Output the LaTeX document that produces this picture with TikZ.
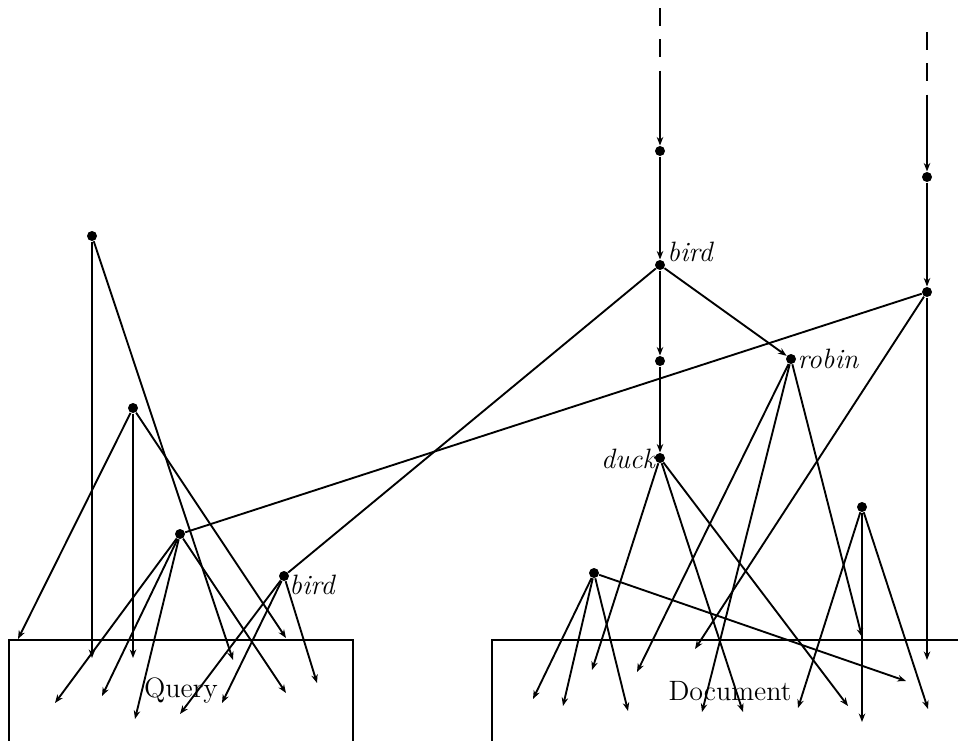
\documentclass[tikz,border=0pt]{standalone}
\usetikzlibrary{arrows.meta}
\begin{document}
\begin{tikzpicture}[x=0.4pt,y=-0.4pt,
  dot/.style={circle,fill=black,inner sep=0pt,minimum size=4pt},
  edge/.style={line width=0.75pt},
  arr/.style={edge,-{Stealth[length=3.4pt,width=2.6pt]}},
  dashline/.style={edge,dash pattern=on 7pt off 5.5pt},
  lbl/.style={inner sep=0pt,font=\fontsize{11.2}{13}\selectfont\itshape},
  boxlbl/.style={inner sep=0pt,font=\fontsize{11.2}{13}\selectfont}]
\useasboundingbox (0,0) rectangle (958,740);
% boxes
\draw[edge] (9,745) -- (9,640) -- (353,640) -- (353,745);
\draw[edge] (492,745) -- (492,640) -- (962,640);
\node[boxlbl] (qlbl) at (181,690) {Query};
\node[boxlbl] (dlbl) at (730,691) {Document};
% dots
\node[dot] (A) at (92,236) {};
\node[dot] (B) at (133,408) {};
\node[dot] (C) at (180,534) {};
\node[dot] (D) at (284,576) {};
\node[dot] (E) at (660,151) {};
\node[dot] (F) at (660,265) {};
\node[dot] (G) at (660,361) {};
\node[dot] (H) at (660,458) {};
\node[dot] (I) at (791,359) {};
\node[dot] (J) at (927,177) {};
\node[dot] (K) at (927,292) {};
\node[dot] (L) at (862,507) {};
\node[dot] (M) at (594,573) {};
% labels
\node[lbl] (Fl) at (690,252) {bird};
\node[lbl] (Il) at (828,359) {robin};
\node[lbl] (Hl) at (628,459) {duck};
\node[lbl] (Dl) at (312,585) {bird};
% top dashed inputs
\coordinate (t1) at (660,8);
\coordinate (m1) at (660,75);
\coordinate (t2) at (927,32);
\coordinate (m2) at (927,100);
\draw[dashline] (t1) -- (m1);
\draw[arr] (m1) -- (E);
\draw[dashline] (t2) -- (m2);
\draw[arr] (m2) -- (J);
% document network
\draw[arr] (E) -- (F);
\draw[arr] (F) -- (G);
\draw[arr] (G) -- (H);
\draw[arr] (F) -- (I);
\draw[arr] (J) -- (K);
\draw[edge] (F) -- (D);
\draw[edge] (K) -- (C);
% free ends
\coordinate (k1) at (927,660);
\coordinate (k2) at (695,649);
\coordinate (i1) at (637,672);
\coordinate (i2) at (702,712);
\coordinate (i3) at (862,637);
\coordinate (h1) at (592,670);
\coordinate (h2) at (743,712);
\coordinate (h3) at (848,706);
\coordinate (m1e) at (533,699);
\coordinate (m2e) at (563,706);
\coordinate (m3e) at (628,711);
\coordinate (m4e) at (906,681);
\coordinate (l1) at (862,722);
\coordinate (l2) at (798,708);
\coordinate (l3) at (928,709);
\coordinate (a1) at (92,658);
\coordinate (a2) at (233,660);
\coordinate (b1) at (133,658);
\coordinate (b2) at (18,639);
\coordinate (b3) at (286,638);
\coordinate (c1) at (55,703);
\coordinate (c2) at (102,696);
\coordinate (c3) at (135,719);
\coordinate (c4) at (286,693);
\coordinate (d1) at (180,714);
\coordinate (d2) at (222,703);
\coordinate (d3) at (317,683);
\draw[arr] (K) -- (k1);
\draw[arr] (K) -- (k2);
\draw[arr] (I) -- (i1);
\draw[arr] (I) -- (i2);
\draw[arr] (I) -- (i3);
\draw[arr] (H) -- (h1);
\draw[arr] (H) -- (h2);
\draw[arr] (H) -- (h3);
\draw[arr] (M) -- (m1e);
\draw[arr] (M) -- (m2e);
\draw[arr] (M) -- (m3e);
\draw[arr] (M) -- (m4e);
\draw[arr] (L) -- (l1);
\draw[arr] (L) -- (l2);
\draw[arr] (L) -- (l3);
% query network
\draw[arr] (A) -- (a1);
\draw[arr] (A) -- (a2);
\draw[arr] (B) -- (b1);
\draw[arr] (B) -- (b2);
\draw[arr] (B) -- (b3);
\draw[arr] (C) -- (c1);
\draw[arr] (C) -- (c2);
\draw[arr] (C) -- (c3);
\draw[arr] (C) -- (c4);
\draw[arr] (D) -- (d1);
\draw[arr] (D) -- (d2);
\draw[arr] (D) -- (d3);
\end{tikzpicture}
\end{document}
